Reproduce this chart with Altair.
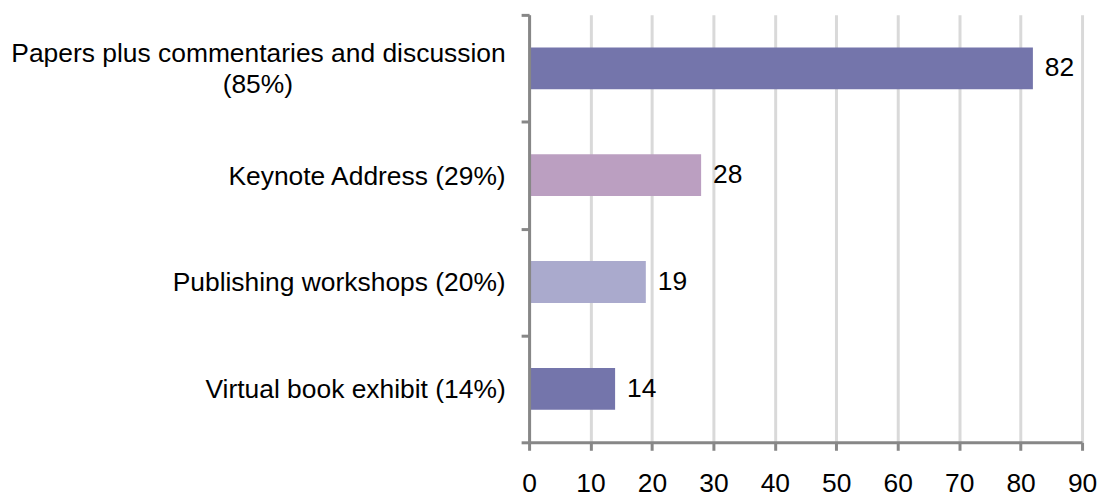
import altair as alt
import pandas as pd

categories = [
    "Papers plus commentaries and discussion|(85%)",
    "Keynote Address (29%)",
    "Publishing workshops (20%)",
    "Virtual book exhibit (14%)",
]
values = [82, 28, 19, 14]
bar_colors = ["#7475ab", "#bb9fc1", "#aaaacd", "#7475ab"]
x_ticks = [0, 10, 20, 30, 40, 50, 60, 70, 80, 90]

df = pd.DataFrame({"label": categories, "value": values})

FONT = "Liberation Sans"
FS = 26.5
AXIS_GRAY = "#878787"
# non-breaking spaces (kept from trimming by a zero-width space) centre line 2 under line 1
PAD = "\u00a0" * 29 + "\u200b"
BLANK = "\u00a0\u200b"

# half-height lines: a two-line label uses lines 1 and 3, a one-line label uses line 2,
# so that every label block is centred on its band
label_expr = (
    "indexof(datum.label, '|') >= 0 ? "
    "[split(datum.label, '|')[0], '" + BLANK + "', split(datum.label, '|')[1] + '" + PAD + "'] : "
    "['" + BLANK + "', datum.label]"
)

y_enc = alt.Y(
    "label:N",
    sort=None,
    scale=alt.Scale(paddingInner=0, paddingOuter=0),
    axis=alt.Axis(
        title=None,
        tickBand="extent",
        domainColor=AXIS_GRAY,
        domainWidth=3,
        tickColor=AXIS_GRAY,
        tickWidth=3,
        tickSize=8,
        labelFont=FONT,
        labelFontSize=FS,
        labelColor="black",
        labelLimit=0,
        labelOverlap=False,
        labelLineHeight=15.5,
        labelOffset=-14.5,
        labelExpr=label_expr,
        labelAlign="right",
        labelPadding=16,
        grid=False,
        zindex=1,
    ),
)

x_enc = alt.X(
    "value:Q",
    scale=alt.Scale(domain=[0, 90], nice=False),
    axis=alt.Axis(
        title=None,
        values=x_ticks,
        grid=True,
        gridColor="#d9d9d9",
        gridWidth=3,
        domainColor=AXIS_GRAY,
        domainWidth=3,
        tickColor=AXIS_GRAY,
        tickWidth=3,
        tickSize=8,
        labelFont=FONT,
        labelFontSize=FS,
        labelColor="black",
        labelPadding=20,
        labelFlush=False,
        zindex=0,
    ),
)

bars = alt.Chart(df).mark_bar(size=42).encode(
    y=y_enc,
    x=x_enc,
    color=alt.Color(
        "label:N",
        scale=alt.Scale(domain=categories, range=bar_colors),
        legend=None,
    ),
)

texts = alt.Chart(df).mark_text(
    align="left", baseline="middle", dx=12, fontSize=FS, font=FONT, color="black"
).encode(
    y=alt.Y("label:N", sort=None),
    x=alt.X("value:Q"),
    text=alt.Text("value:Q"),
)

chart = (
    alt.layer(bars, texts)
    .properties(
        width=555,
        height=429,
        autosize="none",
        padding={"left": 523, "top": 6, "right": 15, "bottom": 56},
        background="white",
    )
    .configure_view(strokeWidth=0)
)

chart.save("out.html", embed_options={"renderer": "svg", "actions": False})
